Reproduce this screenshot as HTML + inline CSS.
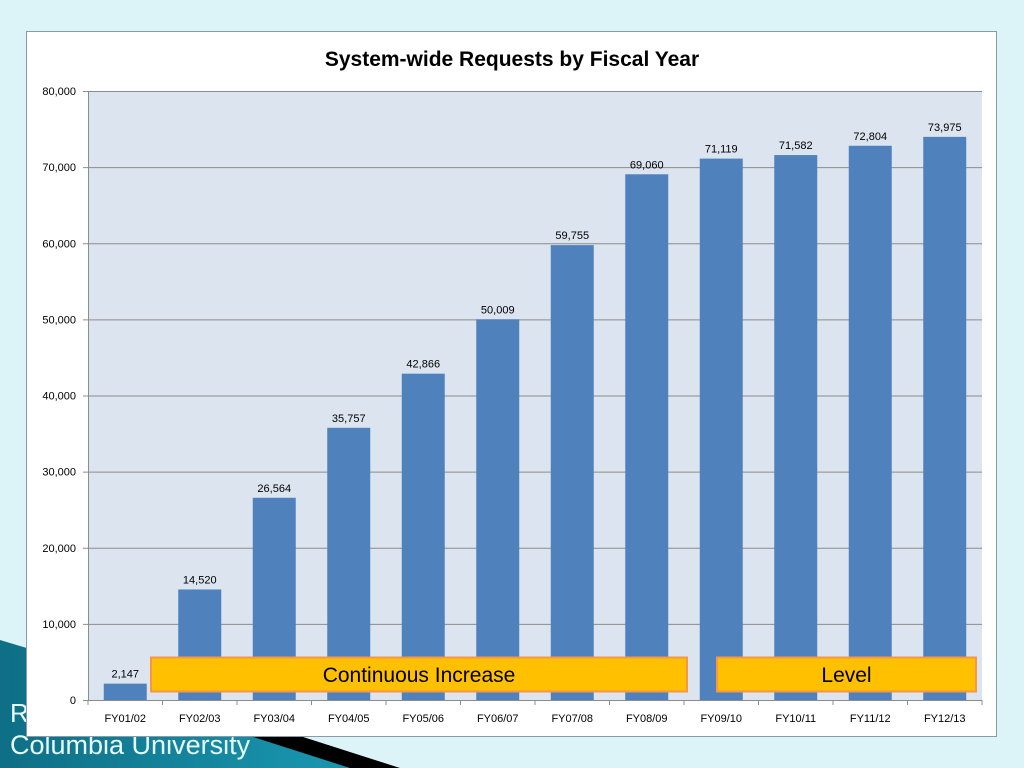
<!DOCTYPE html>
<html><head><meta charset="utf-8">
<style>
html,body{margin:0;padding:0;}
body{width:1024px;height:768px;overflow:hidden;background:#dcf3f7;font-family:"Liberation Sans",sans-serif;position:relative;}
</style></head>
<body>
<svg width="1024" height="768" style="position:absolute;left:0;top:0">
  <defs>
    <linearGradient id="tg" x1="0" y1="0" x2="1" y2="0">
      <stop offset="0" stop-color="#0e6f86"/><stop offset="1" stop-color="#1a9bb4"/>
    </linearGradient>
  </defs>
  <polygon points="0,640 40,652 380,768 0,768" fill="url(#tg)"/>
  <polygon points="250,736 300,736 400,768 350,768" fill="#000"/>
  <text x="10" y="722" font-size="26" fill="#e8fbff" font-family="Liberation Sans, sans-serif">R</text>
  <text x="10" y="754" font-size="27" fill="#e8fbff" font-family="Liberation Sans, sans-serif">Columbia University</text>
</svg>
<svg id="chart" width="1024" height="768" style="position:absolute;left:0;top:0"></svg>
<script>
const categories=["FY01/02","FY02/03","FY03/04","FY04/05","FY05/06","FY06/07","FY07/08","FY08/09","FY09/10","FY10/11","FY11/12","FY12/13"];
const requests=[2147,14520,26564,35757,42866,50009,59755,69060,71119,71582,72804,73975];
const yTicks=[0,10000,20000,30000,40000,50000,60000,70000,80000];
const NS="http://www.w3.org/2000/svg";
const svg=document.getElementById('chart');
const L=88,R=982,T=91,B=700,yMax=80000;
const y=v=>B-(v/yMax)*(B-T);
const bw=(R-L)/categories.length;
const x=i=>L+bw*i+bw/2;
function mk(tag,attrs,parent){const e=document.createElementNS(NS,tag);for(const k in attrs)e.setAttribute(k,attrs[k]);(parent||svg).appendChild(e);return e;}
const fmt=v=>v.toLocaleString('en-US');
const box=mk('rect',{x:26.5,y:31.5,width:970,height:705,fill:'#fff',stroke:'#8a9aa6'});


const pa=mk('rect',{x:L,y:T,width:R-L,height:B-T,fill:'#dbe4ef'});


const title=mk('text',{x:512,y:66,'text-anchor':'middle','font-size':21,'font-weight':'bold',fill:'#000'});
title.textContent='System-wide Requests by Fiscal Year';


yTicks.forEach(t=>{
  const g=mk('line',{x1:L-5,x2:R,y1:y(t)+0.5,y2:y(t)+0.5,stroke:'#8c8c8c','stroke-width':1});
  
  
  const lb=mk('text',{x:L-12,y:y(t)+4,'text-anchor':'end','font-size':11,fill:'#000'});
  lb.textContent=fmt(t);
  
  
});
mk('line',{x1:L+0.5,x2:L+0.5,y1:T,y2:B,stroke:'#8c8c8c'});
categories.forEach((c,i)=>{
  const v=requests[i];
  const b=mk('rect',{x:x(i)-21.5,y:y(v),width:43,height:B-y(v),fill:'#4f81bd'});
  
  
  const vl=mk('text',{x:x(i),y:y(v)-6,'text-anchor':'middle','font-size':11,fill:'#000'});
  vl.textContent=fmt(v);
  
  
  mk('line',{x1:L+bw*(i+1),x2:L+bw*(i+1),y1:B,y2:B+5,stroke:'#8c8c8c'});
  const cl=mk('text',{x:x(i),y:B+22,'text-anchor':'middle','font-size':11,fill:'#000'});
  cl.textContent=c;
  
  
});
mk('line',{x1:L,x2:L,y1:B,y2:B+5,stroke:'#8c8c8c'});
function callout(x0,x1,label,name){
  const r=mk('rect',{x:x0,y:657.5,width:x1-x0,height:34,fill:'#ffc000',stroke:'#f79646','stroke-width':2});
  
  
  const t=mk('text',{x:(x0+x1)/2,y:682,'text-anchor':'middle','font-size':21,fill:'#000'});
  t.textContent=label;
  
  
}
callout(151,687,'Continuous  Increase','continuous-increase-callout');
callout(717,976,'Level','level-callout');
</script>
</body></html>
